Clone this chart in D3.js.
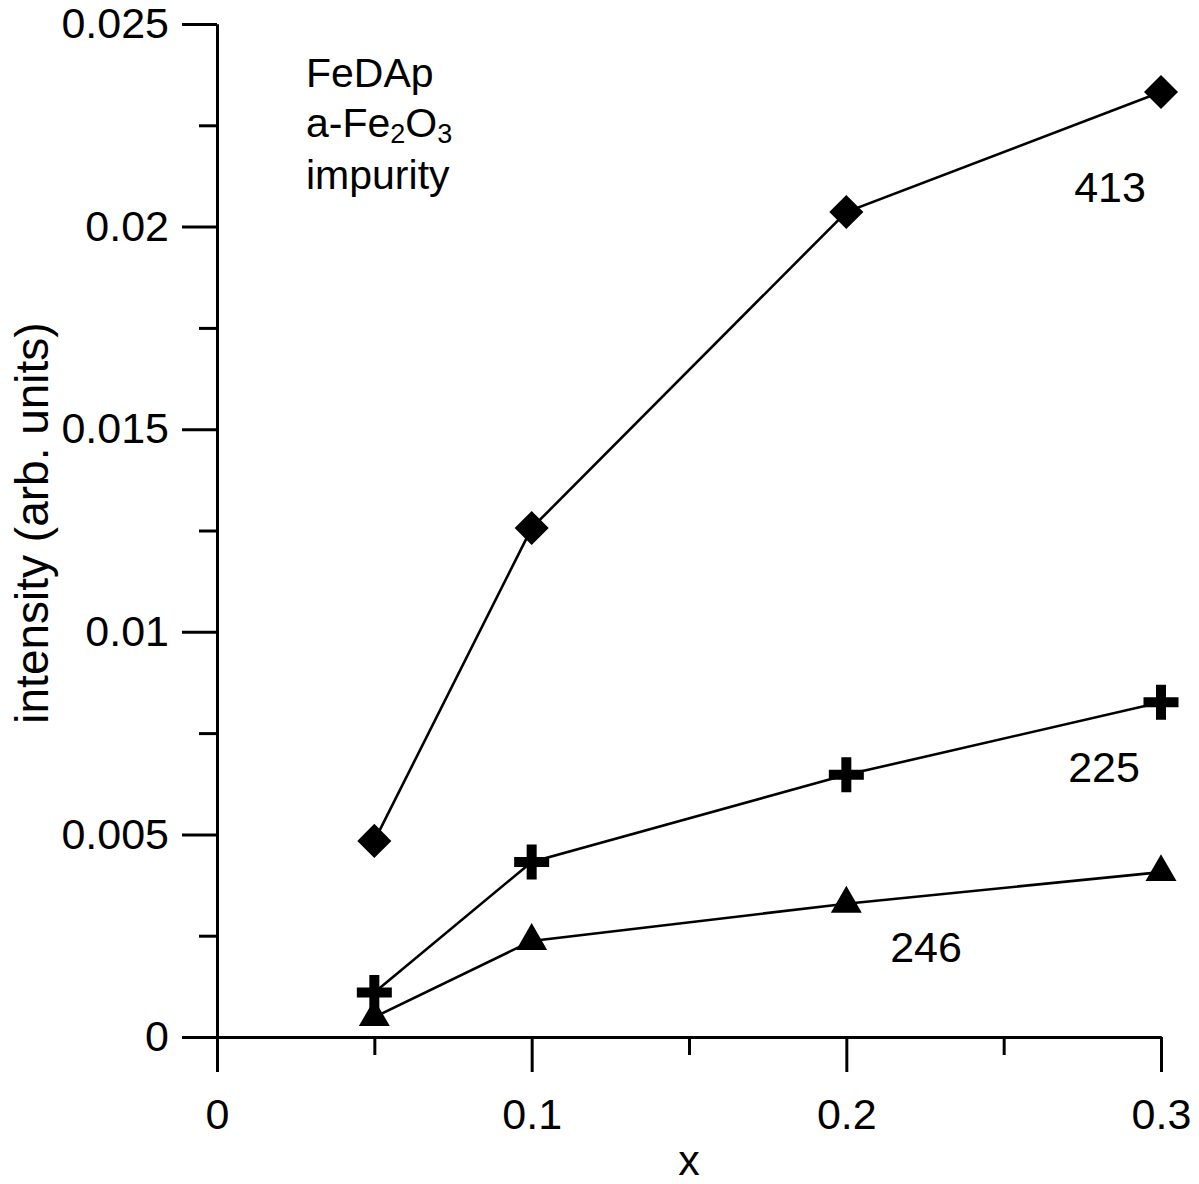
<!DOCTYPE html>
<head>
<meta charset="utf-8">
<script src="https://d3js.org/d3.v7.min.js"></script>
</head>
<body style="margin:0;background:#fff">
<style>
  text { font-family: "Liberation Sans", Arial, sans-serif; fill: #000; }
</style>
<div id="viz"></div>
<script>

// data
var xs = [0.05, 0.1, 0.2, 0.3];
var s413 = [0.00484, 0.01256, 0.02036, 0.02332];
var s225 = [0.00110, 0.00432, 0.00647, 0.00826];
var s246 = [0.00049, 0.00237, 0.00329, 0.00407];
var xMajor = [0, 0.1, 0.2, 0.3];
var xMinor = [0.05, 0.15, 0.25];
var yMajor = [0, 0.005, 0.01, 0.015, 0.02, 0.025];
var yMinor = [0.0025, 0.0075, 0.0125, 0.0175, 0.0225];

var width = 1199, height = 1184;
var fs = 43;

var svg = d3.select("#viz")
  .append("svg")
    .attr("width", width)
    .attr("height", height);

var x = d3.scaleLinear().domain([0, 0.3]).range([217, 1161]);
var y = d3.scaleLinear().domain([0, 0.025]).range([1037, 24]);

// x axis
svg.append("g")
  .attr("transform", "translate(0,1037)")
  .call(d3.axisBottom(x).tickValues(xMajor).tickSize(35).tickSizeOuter(0).tickPadding(26)
    .tickFormat(function(d) { return d === 0 ? "0" : d3.format(".1f")(d); }));
svg.append("g")
  .attr("transform", "translate(0,1037)")
  .call(d3.axisBottom(x).tickValues(xMinor).tickSize(18).tickSizeOuter(0).tickFormat(""));

// y axis
svg.append("g")
  .attr("transform", "translate(217,0)")
  .call(d3.axisLeft(y).tickValues(yMajor).tickSize(35).tickSizeOuter(0).tickPadding(13)
    .tickFormat(function(d) { return d === 0 ? "0" : String(+d.toFixed(3)); }));
svg.append("g")
  .attr("transform", "translate(217,0)")
  .call(d3.axisLeft(y).tickValues(yMinor).tickSize(18).tickSizeOuter(0).tickFormat(""));

svg.selectAll(".domain, .tick line")
  .attr("stroke", "#000")
  .attr("stroke-width", 3);
svg.selectAll(".tick text")
  .style("font-size", fs + "px")
  .style("font-family", "'Liberation Sans', Arial, sans-serif");

// axis titles
svg.append("text")
  .attr("x", 689)
  .attr("y", 1175)
  .attr("text-anchor", "middle")
  .style("font-size", fs + "px")
  .text("x");

svg.append("text")
  .attr("transform", "translate(48,523) rotate(-90)")
  .attr("text-anchor", "middle")
  .style("font-size", "46px")
  .text("intensity (arb. units)");

// series
var line = d3.line()
  .x(function(d, i) { return x(xs[i]); })
  .y(function(d) { return y(d); });

[s413, s225, s246].forEach(function(s) {
  svg.append("path")
    .datum(s)
    .attr("fill", "none")
    .attr("stroke", "#000")
    .attr("stroke-width", 2.6)
    .attr("d", line);
});

// markers
var diamond = d3.symbol().type(d3.symbolSquare).size(580);
svg.selectAll(".dia")
  .data(s413)
  .enter().append("path")
    .attr("d", diamond)
    .attr("transform", function(d, i) { return "translate(" + x(xs[i]) + "," + y(d) + ") rotate(45)"; })
    .attr("fill", "#000");

function plusPath(a, t) {
  var p = d3.path();
  p.moveTo(-a, -t); p.lineTo(-t, -t); p.lineTo(-t, -a); p.lineTo(t, -a); p.lineTo(t, -t);
  p.lineTo(a, -t); p.lineTo(a, t); p.lineTo(t, t); p.lineTo(t, a); p.lineTo(-t, a);
  p.lineTo(-t, t); p.lineTo(-a, t); p.closePath();
  return p.toString();
}
svg.selectAll(".plus")
  .data(s225)
  .enter().append("path")
    .attr("d", plusPath(17.5, 5))
    .attr("transform", function(d, i) { return "translate(" + x(xs[i]) + "," + y(d) + ")"; })
    .attr("fill", "#000");

var tri = d3.symbol().type(d3.symbolTriangle).size(416);
svg.selectAll(".tri")
  .data(s246)
  .enter().append("path")
    .attr("d", tri)
    .attr("transform", function(d, i) { return "translate(" + x(xs[i]) + "," + y(d) + ")"; })
    .attr("fill", "#000");

// series labels
var labels = [["413", 1110, 202], ["225", 1104, 782], ["246", 926, 962]];
labels.forEach(function(l) {
  svg.append("text")
    .attr("x", l[1])
    .attr("y", l[2])
    .attr("text-anchor", "middle")
    .style("font-size", fs + "px")
    .text(l[0]);
});

// note in the corner
var nfs = 41;
svg.append("text").attr("x", 306).attr("y", 87).style("font-size", nfs + "px").text("FeDAp");
var t2 = svg.append("text").attr("x", 306).attr("y", 137).style("font-size", nfs + "px");
t2.append("tspan").text("a-Fe");
t2.append("tspan").attr("dy", 6).style("font-size", "27px").text("2");
t2.append("tspan").attr("dy", -6).text("O");
t2.append("tspan").attr("dy", 6).style("font-size", "27px").text("3");
svg.append("text").attr("x", 306).attr("y", 189).style("font-size", nfs + "px").text("impurity");

</script>
</body>
